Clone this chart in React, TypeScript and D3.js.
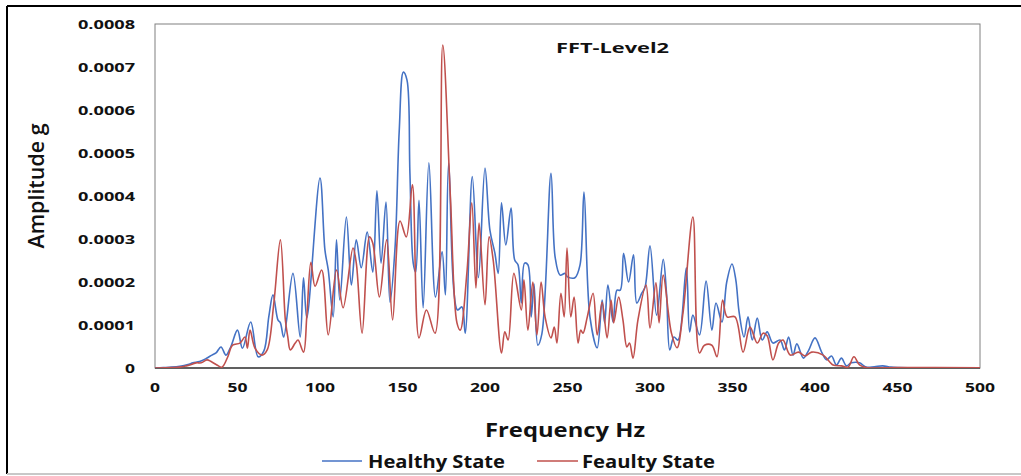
import React from "react";
import * as d3 from "d3";

// ---- Data ----
const xTicks = [0, 50, 100, 150, 200, 250, 300, 350, 400, 450, 500];
const yTicks = [0, 0.0001, 0.0002, 0.0003, 0.0004, 0.0005, 0.0006, 0.0007, 0.0008];
const yTickLabels = ["0", "0.0001", "0.0002", "0.0003", "0.0004", "0.0005", "0.0006", "0.0007", "0.0008"];

// Healthy State: frequency (Hz) / amplitude (g)
const healthyFreq = [
  0, 5, 10, 15, 20, 23, 27, 31, 34.5, 37, 40, 43, 46, 50, 53, 58, 62.5, 66, 69, 71.5,
  74.5, 76, 78, 83.6, 88, 90, 92, 100, 103, 105, 108, 110, 112, 116, 119, 122, 125, 128.6,
  132, 134.5, 137, 140, 142.4, 145.5, 148, 150.5, 152.7, 154.5, 156.5, 158, 160, 162.5,
  166, 170, 174, 176, 178, 183.3, 186, 188, 192.3, 196, 200, 203, 206, 208, 210, 212.6,
  215.8, 218, 220, 222, 224, 226, 228, 229.7, 232, 234.5, 240, 242.5, 245.5, 248.5, 250,
  254.5, 257.6, 260, 263.6, 268, 271, 272.5, 274.5, 277.6, 280, 282, 284, 287, 290, 292,
  295, 297, 300, 304, 308, 310, 312, 314.5, 317, 322, 324, 326, 330, 334, 337.5, 340,
  343.6, 346.5, 349.7, 352, 354, 357, 359.4, 362, 365, 368, 371, 374.5, 378.8, 381.5, 384,
  386.7, 389, 393, 396, 400, 404, 407, 410, 413, 416, 419, 422, 427, 431, 436, 441, 446,
  451, 460, 480, 500,
];
const healthyAmp = [
  0, 0.000001, 0.000002, 0.000004, 0.000008, 0.000012, 0.000015, 0.000022, 0.00003, 0.000035,
  0.000049, 0.00003, 0.00005, 0.000088, 0.000046, 0.000107, 0.000026, 0.00004, 0.00012, 0.00017,
  0.000112, 0.000105, 0.000072, 0.00022, 0.000072, 0.00021, 0.000116, 0.000442, 0.000274,
  0.000228, 0.000119, 0.000298, 0.000158, 0.000351, 0.000193, 0.000298, 0.000233, 0.000316,
  0.000223, 0.000412, 0.000244, 0.000386, 0.000153, 0.000281, 0.00055, 0.000688, 0.00067,
  0.000453, 0.000244, 0.000223, 0.00039, 0.00014, 0.000477, 0.000165, 0.00027, 0.00017,
  0.000477, 0.000135, 0.000142, 0.000081, 0.000445, 0.00021, 0.000465, 0.00032, 0.000267,
  0.00022, 0.000384, 0.000286, 0.000372, 0.000251, 0.00024, 0.000151, 0.000244, 0.00024,
  0.000119, 0.000195, 0.000053, 0.00008, 0.000453, 0.000258, 0.000216, 0.00022, 0.000212,
  0.00021, 0.00024, 0.000409, 0.000119, 0.000047, 0.000158, 0.000105, 0.000193, 0.000107,
  0.000181, 0.000181, 0.000267, 0.0002, 0.000263, 0.000151, 0.000174, 0.000188, 0.000284,
  0.000123, 0.000253, 0.000174, 0.000042, 0.000072, 0.000065, 0.000233, 0.000084, 0.000123,
  0.000077, 0.000202, 0.000088, 0.000151, 0.000107, 0.0002, 0.000242, 0.000205, 0.00013,
  0.000072, 0.000119, 0.000065, 0.000116, 0.000065, 0.000084, 0.000058, 0.000065, 0.000042,
  0.000072, 0.00003, 0.000056, 0.000023, 0.00004, 0.00007, 0.000037, 0.000019, 0.000028,
  0.000007, 0.000023, 0.000005, 0.000012, 0.000012, 0.000002, 0.000003, 0.000005, 0.000002,
  0.000001, 0.0000005, 0.0000003, 0.0000003,
];

// Feaulty State: frequency (Hz) / amplitude (g)
const faultyFreq = [
  0, 10, 15, 19, 22, 25, 28, 31.5, 34, 37.5, 40.6, 44, 47, 51.5, 54.5, 56, 57.6, 60.6, 64.8,
  68, 72, 76, 79, 80.5, 82, 85, 86.7, 90, 92, 94.5, 97, 101, 105, 110, 114, 120, 122, 125.5,
  130, 132, 136, 140.4, 144, 148.5, 152.3, 156, 160, 164.5, 169.7, 174.4, 179, 183, 185, 189,
  192, 194.5, 196.4, 200, 202.5, 205, 210, 212, 214, 217.5, 222, 223.6, 226, 229, 231.5, 234,
  236.4, 240, 242, 243.6, 246, 248, 249.7, 252, 254, 256.4, 258, 259.4, 262, 265.5, 268, 271,
  274, 276.4, 278, 281, 283.6, 286, 287.6, 289.7, 292.7, 297.6, 300, 303.6, 305.5, 308, 313,
  316.4, 320, 326, 330, 333, 337.5, 340.6, 344, 346.7, 351.5, 356.4, 360.6, 365, 368.5, 371,
  374.5, 378, 380.6, 385, 390, 394, 398, 405, 411, 416, 420, 423.6, 427, 431, 450, 500,
];
const faultyAmp = [
  0, 0.000001, 0.000002, 0.000005, 0.000008, 0.000012, 0.000012, 0.000019, 0.000015, 0.000007,
  0.000002, 0.000025, 0.000053, 0.000058, 0.000072, 0.000046, 0.000088, 0.000046, 0.00003,
  0.000042, 0.00015, 0.000298, 0.000112, 0.000072, 0.000042, 0.000058, 0.000065, 0.000037,
  0.00012, 0.000246, 0.00019, 0.000228, 0.000077, 0.000228, 0.00014, 0.000279, 0.000244,
  0.000081, 0.000305, 0.00029, 0.000165, 0.000298, 0.000112, 0.000342, 0.000305, 0.000426,
  0.00007, 0.000135, 0.000081, 0.000751, 0.0004, 0.000105, 0.000088, 0.00022, 0.000384,
  0.000186, 0.000337, 0.000147, 0.000305, 0.00025, 0.000035, 0.000084, 0.000065, 0.00022,
  0.000135, 0.000205, 0.000088, 0.0002, 0.000077, 0.0002, 0.000119, 0.00007, 0.000095,
  0.000058, 0.000174, 0.000119, 0.000279, 0.000119, 0.000165, 0.000058, 0.000088, 0.000081,
  0.000119, 0.000174, 0.000077, 0.000153, 0.00007, 0.000158, 0.000105, 0.000165, 0.000112,
  0.000049, 0.000058, 0.000023, 0.000112, 0.000193, 0.000093, 0.000198, 0.000105, 0.000216,
  0.000081, 0.000047, 0.000128, 0.000351, 0.000035, 0.000053, 0.000053, 0.000026, 0.000158,
  0.000119, 0.000119, 0.000037, 0.000095, 0.000058, 0.000081, 0.000075, 0.000019, 0.000058,
  0.000065, 0.00003, 0.000037, 0.000028, 0.000037, 0.00003, 0.000007, 0.000005, 0.000002,
  0.000026, 0.000007, 0.000001, 0.000001, 0.0000005,
];

const seriesNames = ["Healthy State", "Feaulty State"];
const seriesColors = ["#4472C4", "#C0504D"];

// ---- Layout ----
const W = 1021;
const H = 476;
const plot = { left: 155, right: 980, top: 24, bottom: 368 };
const FONT = "'Open Sans', 'DejaVu Sans', sans-serif";

function Txt(props: any) {
  const { children, len, ...rest } = props;
  return (
    <text {...rest} textLength={len} lengthAdjust="spacingAndGlyphs">
      {children}
    </text>
  );
}

export default function App() {
  const x = d3.scaleLinear().domain([0, 500]).range([plot.left, plot.right]);
  const y = d3.scaleLinear().domain([0, 0.0008]).range([plot.bottom, plot.top]);

  const line = d3
    .line<[number, number]>()
    .x((d) => x(d[0]))
    .y((d) => Math.min(y(d[1]), plot.bottom))
    .curve(d3.curveCatmullRom.alpha(0.5));

  const healthy: [number, number][] = healthyFreq.map((f, i) => [f, healthyAmp[i]]);
  const faulty: [number, number][] = faultyFreq.map((f, i) => [f, faultyAmp[i]]);

  return (
    <svg
      width={W}
      height={H}
      style={{ position: "absolute", left: 0, top: 0, background: "#fff" }}
      fontFamily={FONT}
    >
      <defs>
        <clipPath id="plotClip">
          <rect x={plot.left} y={plot.top - 5} width={plot.right - plot.left} height={plot.bottom - plot.top + 5} />
        </clipPath>
      </defs>
      <rect x={0} y={0} width={W} height={H} fill="#fff" />
      {/* outer frame */}
      <line x1={7} y1={6} x2={W} y2={6} stroke="#000" strokeWidth={2} />
      <line x1={7} y1={6} x2={7} y2={474} stroke="#000" strokeWidth={2} />
      <line x1={7} y1={474} x2={W} y2={474} stroke="#c8c8c8" strokeWidth={2} />

      {/* plot area */}
      <rect
        x={plot.left}
        y={plot.top}
        width={plot.right - plot.left}
        height={plot.bottom - plot.top}
        fill="#fff"
        stroke="#808080"
        strokeWidth={1}
      />
      <line x1={plot.left} x2={plot.right} y1={plot.bottom} y2={plot.bottom} stroke="#404040" strokeWidth={1.5} />

      {/* y tick labels */}
      {yTicks.map((t, i) => (
        <Txt
          key={"y" + i}
          x={135}
          y={y(t) + 4.5}
          textAnchor="end"
          fontSize={12}
          fontWeight="bold"
          fill="#111"
          len={yTickLabels[i].length === 1 ? 10 : 57}
        >
          {yTickLabels[i]}
        </Txt>
      ))}

      {/* x tick labels */}
      {xTicks.map((t, i) => (
        <Txt
          key={"x" + i}
          x={x(t)}
          y={392}
          textAnchor="middle"
          fontSize={12}
          fontWeight="bold"
          fill="#111"
          len={String(t).length * 10}
        >
          {String(t)}
        </Txt>
      ))}

      {/* series */}
      <g clipPath="url(#plotClip)">
        <path d={line(healthy) || ""} fill="none" stroke={seriesColors[0]} strokeWidth={1.6} strokeLinejoin="round" />
        <path d={line(faulty) || ""} fill="none" stroke={seriesColors[1]} strokeWidth={1.6} strokeLinejoin="round" />
      </g>

      {/* title */}
      <Txt x={556} y={53} fontSize={15} fontWeight="bold" fill="#111" len={113}>
        FFT-Level2
      </Txt>

      {/* axis titles */}
      <Txt x={565} y={437} textAnchor="middle" fontSize={20} fontWeight="bold" fill="#111" len={160}>
        Frequency Hz
      </Txt>
      <g transform="translate(44,186) rotate(-90)">
        <Txt x={0} y={0} textAnchor="middle" fontSize={21} fontWeight={600} fill="#111" len={125}>
          Amplitude g
        </Txt>
      </g>

      {/* legend */}
      <line x1={322} x2={362} y1={461} y2={461} stroke={seriesColors[0]} strokeWidth={1.4} />
      <Txt x={368} y={468} fontSize={17} fontWeight="bold" fill="#111" len={137}>
        {seriesNames[0]}
      </Txt>
      <line x1={537} x2={578} y1={461} y2={461} stroke={seriesColors[1]} strokeWidth={1.4} />
      <Txt x={582} y={468} fontSize={17} fontWeight="bold" fill="#111" len={133}>
        {seriesNames[1]}
      </Txt>
    </svg>
  );
}
